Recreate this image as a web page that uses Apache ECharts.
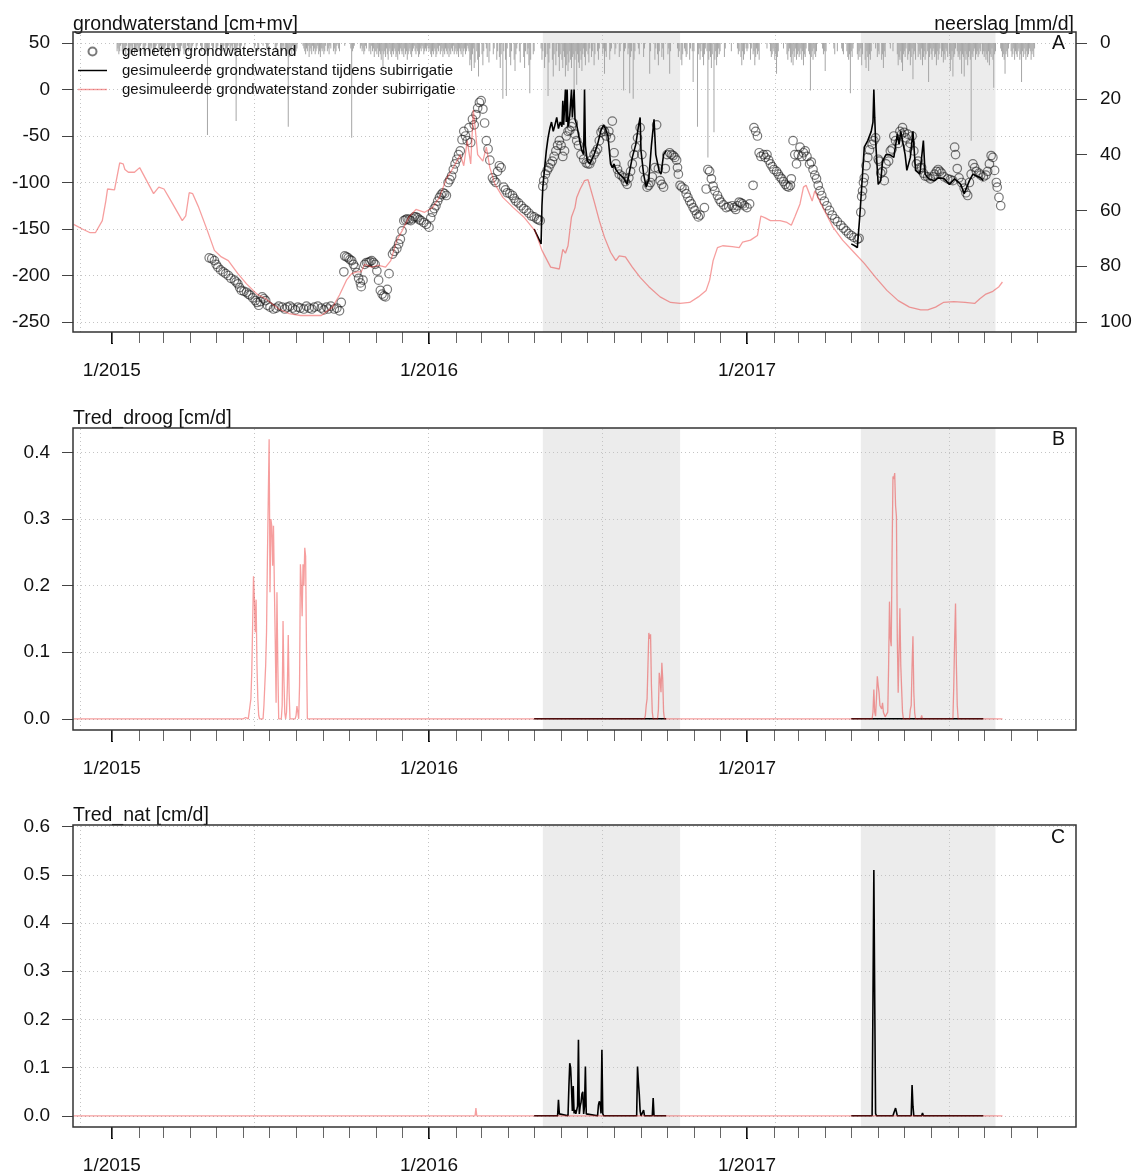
<!DOCTYPE html>
<html>
<head>
<meta charset="utf-8">
<script src="https://cdn.jsdelivr.net/npm/echarts@6/dist/echarts.min.js"></script>
<style>
  html, body { margin: 0; padding: 0; background: #ffffff; }
  #chart { width: 1137px; height: 1176px; }
</style>
</head>
<body>
<div id="chart"></div>
<script>
// ---------------------------------------------------------------------------
// Data: groundwater level, precipitation and transpiration reduction
// ---------------------------------------------------------------------------

// Daily precipitation [mm/d], one value per day starting on 1 January
const precip2015 = [
  0,0,0,0,0,0,3,2,4,3,1,0,3,4,2,3,5,1,0,2,3,4,1,3,2,0,4,3,2,1,3,        // jan
  2,3,1,0,0,2,4,3,1,0,0,3,2,4,1,2,0,3,4,2,1,0,0,2,3,1,4,2,              // feb
  3,2,4,1,0,3,5,2,1,0,2,3,4,2,0,0,1,3,2,4,3,1,0,2,4,3,2,0,1,3,2,        // mar
  0,2,3,1,0,0,0,2,1,0,0,0,1,3,2,0,0,2,4,3,33,4,2,0,0,1,3,2,0,0,         // apr
  2,3,1,0,0,2,4,3,2,1,0,3,2,4,1,0,2,3,1,2,0,3,4,28,3,1,0,2,3,1,0,       // may
  0,0,1,0,0,0,0,0,0,0,0,0,0,2,1,0,0,3,2,0,0,0,0,1,0,0,0,2,3,1,          // jun
  0,0,0,0,0,0,0,2,3,1,0,0,0,2,4,3,1,2,0,3,2,4,30,5,3,2,4,1,3,2,4,       // jul
  3,2,0,0,0,0,0,0,1,2,3,4,2,3,1,5,3,2,4,1,3,2,4,3,2,1,4,3,5,2,3,        // aug
  2,4,3,1,0,3,2,4,1,2,0,0,3,2,4,3,1,0,2,3,0,0,0,0,0,1,0,0,0,0,          // sep
  0,0,2,34,3,2,1,0,0,0,0,0,0,2,1,3,2,4,3,1,2,0,0,3,2,4,1,3,2,5,3,       // oct
  3,4,2,5,3,4,6,3,9,4,3,5,2,4,6,3,2,4,5,3,4,2,3,5,4,6,3,4,2,3,          // nov
  4,3,5,2,4,3,6,4,3,2,4,5,3,2,1,3,4,2,3,5,4,2,3,1,2,4,3,2,3,1,2         // dec
];
const precip2016 = [
  3,2,4,5,3,4,2,3,5,4,2,3,1,4,3,2,5,3,4,2,3,4,2,5,3,4,2,3,1,4,3,        // jan
  2,4,3,5,2,3,4,2,5,3,2,4,3,1,2,3,8,6,10,4,2,9,7,0,3,6,12,5,0,          // feb
  0,4,8,3,0,0,2,5,0,7,3,0,0,0,4,2,0,0,6,3,0,5,9,4,0,20,3,0,6,19,2,      // mar
  0,0,5,8,3,0,0,6,10,4,2,0,0,3,7,0,0,0,5,9,3,0,4,2,8,18,6,0,0,4,        // apr
  3,0,0,0,0,0,0,0,2,6,3,0,9,5,0,4,19,7,2,0,0,6,12,4,0,8,3,0,5,10,4,     // may
  0,6,9,3,5,12,8,4,10,7,3,6,9,5,4,18,6,3,15,4,7,9,3,6,10,4,2,5,8,3,     // jun
  0,4,7,2,0,5,3,0,8,4,0,0,3,6,2,0,0,0,4,2,11,3,5,0,0,0,6,3,2,0,0,       // jul
  0,4,2,0,0,0,5,3,0,0,0,17,3,2,0,0,4,2,18,5,3,0,20,6,3,0,0,0,2,4,0,     // aug
  0,0,0,5,2,0,0,0,0,0,11,3,0,0,0,0,6,2,0,4,8,3,0,0,5,2,6,0,0,0,         // sep
  0,4,2,11,3,0,0,0,0,0,0,0,2,5,3,0,6,8,4,0,2,3,5,4,0,0,6,2,0,3,14,      // oct
  3,0,0,0,30,4,2,6,3,0,5,8,4,2,0,3,41,6,3,5,9,4,0,32,6,3,8,5,2,4,       // nov
  3,0,0,0,0,5,2,0,0,0,0,0,0,3,0,0,0,0,0,0,2,4,3,0,5,8,3,6,4,0,2         // dec
];
const precip2017 = [
  3,2,0,0,6,2,0,4,3,8,5,2,4,3,6,0,0,0,0,0,0,0,0,2,0,0,0,3,5,4,2,        // jan
  3,6,4,11,5,3,0,0,0,0,0,2,0,0,0,4,6,3,2,5,7,4,8,3,5,2,6,4,             // feb
  3,5,4,2,6,3,8,4,5,2,0,0,3,4,17,5,3,6,2,4,5,3,0,0,0,0,0,0,2,4,3,       // mar
  10,3,0,0,0,0,0,0,0,0,2,4,0,0,3,0,0,0,0,2,3,4,0,0,0,3,5,6,4,18,        // apr
  3,5,2,0,0,0,0,4,6,3,5,2,8,4,0,0,6,9,3,5,10,4,6,3,0,0,0,0,2,0,5,       // may
  3,4,0,0,6,4,9,3,5,0,0,0,0,0,2,0,0,3,0,0,0,0,4,8,5,6,3,7,10,4,         // jun
  3,5,2,0,6,4,3,8,5,2,13,4,3,6,0,0,5,3,4,6,2,8,5,3,6,4,0,3,14,5,2,      // jul
  4,6,3,2,5,4,8,3,6,4,2,0,5,3,7,4,6,2,3,5,0,4,10,6,3,12,5,4,2,0,3,      // aug
  5,4,6,3,11,4,5,12,3,6,4,8,5,3,6,35,4,5,3,2,6,4,3,5,4,2,3,0,4,3,       // sep
  5,3,6,4,7,3,8,4,5,2,6,16,4,3,0,0,0,0,0,2,3,5,4,6,11,4,3,5,2,0,0,      // oct
  3,5,4,2,6,3,4,5,3,2,6,4,14,3,5,2,4,6,3,5,4,2,3,6,4,3,5,2,0,0          // nov
];

// Measured groundwater level [cm+mv]
const gwMeasured = [
  ['2015-04-23',-181],['2015-04-26',-182],['2015-04-29',-184],['2015-05-01',-188],['2015-05-03',-191],
  ['2015-05-06',-194],['2015-05-09',-196],['2015-05-12',-198],['2015-05-15',-200],['2015-05-18',-203],
  ['2015-05-22',-205],['2015-05-24',-207],['2015-05-26',-209],['2015-05-28',-213],['2015-05-30',-216],
  ['2015-06-02',-217],['2015-06-05',-218],['2015-06-07',-220],['2015-06-09',-221],['2015-06-12',-224],
  ['2015-06-15',-227],['2015-06-17',-229],['2015-06-19',-232],['2015-06-21',-228],['2015-06-23',-223],
  ['2015-06-25',-225],['2015-06-27',-227],['2015-06-29',-232],['2015-07-02',-234],['2015-07-06',-236],
  ['2015-07-09',-235],['2015-07-12',-233],['2015-07-16',-234],['2015-07-19',-236],['2015-07-22',-234],
  ['2015-07-25',-233],['2015-07-28',-235],['2015-07-31',-237],['2015-08-03',-234],['2015-08-06',-235],
  ['2015-08-10',-236],['2015-08-13',-233],['2015-08-16',-235],['2015-08-19',-236],['2015-08-22',-234],
  ['2015-08-26',-233],['2015-08-30',-235],['2015-09-02',-237],['2015-09-05',-234],['2015-09-07',-236],
  ['2015-09-10',-233],['2015-09-14',-236],['2015-09-17',-235],['2015-09-20',-238],['2015-09-22',-229],
  ['2015-09-25',-196],['2015-09-26',-179],['2015-09-28',-180],['2015-09-30',-181],['2015-10-02',-183],
  ['2015-10-04',-184],['2015-10-06',-188],['2015-10-08',-191],['2015-10-10',-197],['2015-10-12',-203],
  ['2015-10-14',-208],['2015-10-15',-212],['2015-10-17',-205],['2015-10-19',-188],['2015-10-21',-186],
  ['2015-10-23',-186],['2015-10-25',-185],['2015-10-27',-184],['2015-10-29',-186],['2015-10-31',-188],
  ['2015-11-02',-195],['2015-11-04',-205],['2015-11-06',-216],['2015-11-08',-220],['2015-11-10',-222],
  ['2015-11-12',-223],['2015-11-14',-215],['2015-11-16',-198],['2015-11-20',-177],['2015-11-22',-174],
  ['2015-11-25',-171],['2015-11-27',-166],['2015-11-29',-161],['2015-12-01',-152],['2015-12-03',-141],
  ['2015-12-05',-140],['2015-12-07',-139],['2015-12-09',-140],['2015-12-11',-141],['2015-12-13',-139],
  ['2015-12-15',-137],['2015-12-17',-137],['2015-12-19',-138],['2015-12-21',-140],['2015-12-23',-141],
  ['2015-12-26',-143],['2015-12-29',-145],['2016-01-01',-148],['2016-01-03',-138],['2016-01-05',-132],
  ['2016-01-07',-128],['2016-01-09',-125],['2016-01-11',-120],['2016-01-13',-116],['2016-01-15',-113],
  ['2016-01-17',-111],['2016-01-19',-112],['2016-01-21',-114],['2016-01-23',-100],['2016-01-25',-97],
  ['2016-01-27',-93],['2016-01-29',-86],['2016-01-31',-80],['2016-02-02',-75],['2016-02-04',-70],
  ['2016-02-06',-66],['2016-02-08',-54],['2016-02-10',-45],['2016-02-12',-50],['2016-02-14',-55],
  ['2016-02-16',-41],['2016-02-18',-57],['2016-02-20',-32],['2016-02-22',-38],['2016-02-24',-27],
  ['2016-02-26',-20],['2016-02-28',-14],['2016-03-01',-12],['2016-03-03',-21],['2016-03-05',-36],
  ['2016-03-07',-55],['2016-03-09',-64],['2016-03-11',-76],['2016-03-14',-95],['2016-03-16',-98],
  ['2016-03-18',-100],['2016-03-20',-88],['2016-03-22',-82],['2016-03-24',-84],['2016-03-27',-105],
  ['2016-03-29',-108],['2016-03-31',-111],['2016-04-03',-112],['2016-04-06',-114],['2016-04-08',-117],
  ['2016-04-10',-120],['2016-04-13',-122],['2016-04-16',-125],['2016-04-19',-128],['2016-04-22',-130],
  ['2016-04-25',-133],['2016-04-28',-136],['2016-05-01',-137],['2016-05-04',-139],['2016-05-06',-140],
  ['2016-05-08',-141],['2016-05-11',-104],['2016-05-12',-98],['2016-05-14',-91],['2016-05-16',-87],
  ['2016-05-18',-84],['2016-05-20',-80],['2016-05-22',-77],['2016-05-24',-72],['2016-05-26',-66],
  ['2016-05-28',-60],['2016-05-30',-55],['2016-06-01',-60],['2016-06-03',-72],['2016-06-05',-66],
  ['2016-06-07',-50],['2016-06-09',-45],['2016-06-11',-44],['2016-06-13',-40],['2016-06-15',-36],
  ['2016-06-17',-48],['2016-06-19',-55],['2016-06-21',-60],['2016-06-24',-70],['2016-06-27',-75],
  ['2016-06-30',-79],['2016-07-02',-80],['2016-07-04',-80],['2016-07-06',-76],['2016-07-09',-70],
  ['2016-07-11',-67],['2016-07-13',-64],['2016-07-15',-55],['2016-07-17',-46],['2016-07-19',-43],
  ['2016-07-21',-45],['2016-07-23',-50],['2016-07-26',-45],['2016-07-28',-52],['2016-07-30',-34],
  ['2016-08-01',-68],['2016-08-03',-80],['2016-08-05',-86],['2016-08-07',-91],['2016-08-10',-93],
  ['2016-08-12',-95],['2016-08-14',-99],['2016-08-16',-102],['2016-08-18',-95],['2016-08-20',-88],
  ['2016-08-22',-80],['2016-08-24',-70],['2016-08-26',-62],['2016-08-28',-52],['2016-08-31',-41],
  ['2016-09-02',-70],['2016-09-04',-86],['2016-09-06',-96],['2016-09-08',-105],['2016-09-10',-103],
  ['2016-09-12',-100],['2016-09-14',-94],['2016-09-17',-84],['2016-09-19',-38],['2016-09-21',-85],
  ['2016-09-23',-98],['2016-09-25',-102],['2016-09-27',-105],['2016-09-29',-85],['2016-10-01',-70],
  ['2016-10-04',-68],['2016-10-06',-70],['2016-10-08',-71],['2016-10-10',-73],['2016-10-12',-76],
  ['2016-10-13',-84],['2016-10-14',-91],['2016-10-16',-103],['2016-10-18',-105],['2016-10-21',-107],
  ['2016-10-23',-112],['2016-10-25',-116],['2016-10-27',-120],['2016-10-29',-123],['2016-10-31',-127],
  ['2016-11-02',-130],['2016-11-04',-134],['2016-11-06',-137],['2016-11-08',-135],['2016-11-13',-127],
  ['2016-11-15',-107],['2016-11-17',-86],['2016-11-19',-88],['2016-11-21',-96],['2016-11-23',-104],
  ['2016-11-25',-109],['2016-11-28',-114],['2016-11-30',-118],['2016-12-02',-121],['2016-12-05',-124],
  ['2016-12-08',-127],['2016-12-11',-126],['2016-12-15',-125],['2016-12-17',-127],['2016-12-19',-129],
  ['2016-12-21',-125],['2016-12-23',-121],['2016-12-25',-122],['2016-12-27',-123],['2016-12-29',-125],
  ['2017-01-01',-127],['2017-01-04',-123],['2017-01-08',-103],['2017-01-09',-41],['2017-01-11',-45],
  ['2017-01-13',-50],['2017-01-15',-68],['2017-01-17',-72],['2017-01-20',-70],['2017-01-22',-73],
  ['2017-01-24',-70],['2017-01-26',-76],['2017-01-28',-80],['2017-01-30',-83],['2017-02-01',-86],
  ['2017-02-04',-88],['2017-02-06',-91],['2017-02-08',-94],['2017-02-10',-96],['2017-02-12',-99],
  ['2017-02-14',-102],['2017-02-16',-104],['2017-02-18',-105],['2017-02-20',-103],['2017-02-21',-96],
  ['2017-02-23',-55],['2017-02-25',-70],['2017-02-27',-80],['2017-03-01',-70],['2017-03-03',-62],
  ['2017-03-05',-72],['2017-03-07',-68],['2017-03-09',-66],['2017-03-11',-72],['2017-03-14',-80],
  ['2017-03-16',-78],['2017-03-18',-86],['2017-03-20',-92],['2017-03-22',-96],['2017-03-24',-103],
  ['2017-03-26',-109],['2017-03-28',-114],['2017-03-31',-120],['2017-04-03',-125],['2017-04-06',-130],
  ['2017-04-09',-135],['2017-04-12',-139],['2017-04-15',-142],['2017-04-19',-146],['2017-04-22',-149],
  ['2017-04-25',-152],['2017-04-28',-155],['2017-05-01',-157],['2017-05-04',-159],['2017-05-08',-161],
  ['2017-05-10',-160],['2017-05-12',-132],['2017-05-13',-115],['2017-05-14',-109],['2017-05-15',-100],
  ['2017-05-16',-95],['2017-05-18',-82],['2017-05-20',-73],['2017-05-22',-65],['2017-05-25',-59],
  ['2017-05-27',-55],['2017-05-29',-52],['2017-06-01',-75],['2017-06-02',-77],['2017-06-04',-90],
  ['2017-06-06',-88],['2017-06-08',-98],['2017-06-10',-80],['2017-06-13',-77],['2017-06-15',-66],
  ['2017-06-17',-64],['2017-06-19',-50],['2017-06-21',-55],['2017-06-24',-58],['2017-06-26',-45],
  ['2017-06-28',-48],['2017-06-29',-41],['2017-07-01',-46],['2017-07-03',-52],['2017-07-05',-48],
  ['2017-07-06',-62],['2017-07-08',-58],['2017-07-10',-50],['2017-07-12',-66],['2017-07-15',-80],
  ['2017-07-17',-77],['2017-07-19',-84],['2017-07-21',-84],['2017-07-23',-90],['2017-07-25',-93],
  ['2017-07-28',-94],['2017-07-31',-96],['2017-08-03',-94],['2017-08-05',-91],['2017-08-07',-88],
  ['2017-08-09',-86],['2017-08-11',-88],['2017-08-13',-90],['2017-08-16',-94],['2017-08-20',-96],
  ['2017-08-23',-97],['2017-08-26',-98],['2017-08-28',-62],['2017-08-29',-70],['2017-08-31',-85],
  ['2017-09-02',-95],['2017-09-05',-100],['2017-09-08',-106],['2017-09-10',-111],['2017-09-12',-114],
  ['2017-09-14',-100],['2017-09-16',-91],['2017-09-18',-80],['2017-09-20',-84],['2017-09-22',-88],
  ['2017-09-25',-90],['2017-09-27',-92],['2017-09-30',-94],['2017-10-03',-92],['2017-10-05',-88],
  ['2017-10-07',-80],['2017-10-09',-71],['2017-10-11',-73],['2017-10-13',-87],['2017-10-15',-100],
  ['2017-10-16',-105],['2017-10-18',-116],['2017-10-20',-125]
];

// Simulated groundwater level during subirrigation [cm+mv] (null = no simulation)
const gwSimSub = [
  ['2016-05-01',-150],['2016-05-03',-154],['2016-05-05',-158],['2016-05-07',-162],['2016-05-09',-166],
  ['2016-05-10',-125],['2016-05-11',-105],['2016-05-13',-85],['2016-05-15',-66],['2016-05-17',-52],
  ['2016-05-19',-42],['2016-05-21',-35],['2016-05-23',-45],['2016-05-25',-38],['2016-05-27',-30],
  ['2016-05-29',-42],['2016-05-31',-35],['2016-06-02',-40],['2016-06-03',-12],['2016-06-04',-38],
  ['2016-06-06',0],['2016-06-07',-35],['2016-06-08',0],['2016-06-09',-40],['2016-06-11',-28],
  ['2016-06-13',0],['2016-06-14',-30],['2016-06-16',0],['2016-06-17',-32],['2016-06-19',-38],
  ['2016-06-21',-48],['2016-06-23',-58],['2016-06-25',-66],['2016-06-27',-70],['2016-06-28',0],
  ['2016-06-29',-60],['2016-07-01',-76],['2016-07-04',-80],['2016-07-07',-74],['2016-07-09',-70],
  ['2016-07-13',-59],['2016-07-17',-44],['2016-07-20',-38],['2016-07-22',-42],['2016-07-25',-50],
  ['2016-07-28',-80],['2016-07-30',-84],['2016-08-01',-80],['2016-08-03',-86],['2016-08-07',-91],
  ['2016-08-12',-95],['2016-08-16',-102],['2016-08-18',-92],['2016-08-22',-73],['2016-08-26',-59],
  ['2016-08-29',-40],['2016-08-31',-30],['2016-09-01',-66],['2016-09-04',-91],['2016-09-07',-105],
  ['2016-09-10',-96],['2016-09-13',-60],['2016-09-16',-32],['2016-09-18',-70],['2016-09-22',-88],
  ['2016-09-24',-91],['2016-09-27',-70],['2016-09-30',-66],
  ['2016-12-01',null],
  ['2017-05-01',-166],['2017-05-03',-167],['2017-05-05',-168],['2017-05-08',-170],['2017-05-10',-171],
  ['2017-05-11',-134],['2017-05-13',-105],['2017-05-16',-62],['2017-05-20',-55],['2017-05-24',-45],
  ['2017-05-26',-35],['2017-05-27',0],['2017-05-28',-30],['2017-05-29',-55],['2017-06-01',-102],
  ['2017-06-04',-98],['2017-06-06',-77],['2017-06-10',-70],['2017-06-14',-70],['2017-06-19',-73],
  ['2017-06-23',-48],['2017-06-25',-59],['2017-06-27',-45],['2017-07-02',-70],['2017-07-04',-87],
  ['2017-07-08',-73],['2017-07-11',-45],['2017-07-14',-87],['2017-07-19',-91],['2017-07-23',-55],
  ['2017-07-25',-91],['2017-07-29',-96],['2017-08-05',-98],['2017-08-09',-95],['2017-08-16',-96],
  ['2017-08-22',-102],['2017-08-28',-96],['2017-09-04',-102],['2017-09-08',-112],['2017-09-10',-114],
  ['2017-09-14',-98],['2017-09-18',-91],['2017-09-22',-93],['2017-09-27',-95],['2017-09-30',-98]
];

// Simulated groundwater level without subirrigation [cm+mv]
const gwSimNoSub = [
  ['2014-11-18',-145],['2014-11-28',-150],['2014-12-07',-154],['2014-12-13',-154],['2014-12-21',-141],
  ['2014-12-25',-120],['2014-12-27',-107],['2015-01-04',-108],['2015-01-10',-79],['2015-01-14',-80],
  ['2015-01-16',-86],['2015-01-20',-89],['2015-01-27',-89],['2015-02-02',-84],['2015-02-06',-91],
  ['2015-02-18',-112],['2015-02-24',-105],['2015-03-02',-107],['2015-03-12',-123],['2015-03-23',-141],
  ['2015-03-27',-136],['2015-03-31',-111],['2015-04-04',-112],['2015-04-11',-127],['2015-04-21',-152],
  ['2015-04-29',-173],['2015-05-07',-180],['2015-05-15',-184],['2015-05-26',-198],['2015-06-05',-209],
  ['2015-06-17',-220],['2015-06-27',-225],['2015-07-12',-236],['2015-07-24',-241],['2015-08-06',-243],
  ['2015-08-18',-243],['2015-08-30',-243],['2015-09-12',-234],['2015-09-20',-221],['2015-09-28',-205],
  ['2015-10-04',-198],['2015-10-10',-196],['2015-10-15',-196],['2015-10-19',-188],['2015-10-27',-191],
  ['2015-11-04',-189],['2015-11-12',-191],['2015-11-18',-184],['2015-11-25',-162],['2015-12-01',-152],
  ['2015-12-09',-137],['2015-12-17',-129],['2015-12-27',-132],['2016-01-05',-127],['2016-01-13',-116],
  ['2016-01-21',-96],['2016-01-29',-84],['2016-02-06',-70],['2016-02-10',-82],['2016-02-14',-55],
  ['2016-02-18',-80],['2016-02-21',-22],['2016-02-23',-40],['2016-02-26',-70],['2016-03-03',-77],
  ['2016-03-07',-62],['2016-03-11',-84],['2016-03-17',-102],['2016-03-26',-116],['2016-04-07',-127],
  ['2016-04-19',-137],['2016-05-02',-152],['2016-05-10',-173],['2016-05-20',-191],['2016-05-30',-193],
  ['2016-06-03',-172],['2016-06-06',-176],['2016-06-09',-168],['2016-06-13',-137],['2016-06-17',-127],
  ['2016-06-19',-116],['2016-06-23',-107],['2016-06-28',-98],['2016-07-02',-97],['2016-07-09',-120],
  ['2016-07-15',-141],['2016-07-21',-159],['2016-07-28',-175],['2016-08-03',-184],['2016-08-07',-179],
  ['2016-08-14',-180],['2016-08-22',-191],['2016-08-31',-202],['2016-09-10',-212],['2016-09-23',-223],
  ['2016-10-05',-229],['2016-10-16',-230],['2016-10-27',-229],['2016-11-06',-223],['2016-11-15',-216],
  ['2016-11-19',-205],['2016-11-23',-184],['2016-11-28',-170],['2016-12-04',-168],['2016-12-15',-169],
  ['2016-12-23',-170],['2016-12-27',-164],['2017-01-05',-162],['2017-01-13',-157],['2017-01-17',-136],
  ['2017-01-22',-138],['2017-01-28',-141],['2017-02-08',-141],['2017-02-16',-143],['2017-02-21',-146],
  ['2017-02-25',-137],['2017-03-03',-123],['2017-03-07',-105],['2017-03-10',-103],['2017-03-17',-120],
  ['2017-03-20',-109],['2017-03-31',-130],['2017-04-10',-148],['2017-04-21',-162],['2017-05-04',-175],
  ['2017-05-16',-187],['2017-05-29',-202],['2017-06-11',-216],['2017-06-24',-227],['2017-07-07',-234],
  ['2017-07-20',-237],['2017-07-28',-237],['2017-08-06',-234],['2017-08-15',-229],['2017-08-27',-228],
  ['2017-09-09',-229],['2017-09-20',-230],['2017-09-26',-225],['2017-10-03',-220],['2017-10-11',-217],
  ['2017-10-18',-212],['2017-10-22',-207]
];

// Transpiration reduction due to drought [cm/d]
const tredDroogSub = [
  ['2016-05-01',0],['2016-09-30',0],['2016-12-01',null],['2017-05-01',0],['2017-09-30',0]
];
const tredDroogNoSub = [
  ['2014-11-18',0],['2015-06-01',0],['2015-06-02',0.002],['2015-06-03',0.003],['2015-06-04',0.002],
  ['2015-06-05',0],['2015-06-07',0],['2015-06-08',0.01],['2015-06-09',0.02],['2015-06-10',0.03],
  ['2015-06-11',0.07],['2015-06-12',0.14],['2015-06-13',0.214],['2015-06-14',0.18],['2015-06-15',0.13],
  ['2015-06-16',0.179],['2015-06-17',0.08],['2015-06-18',0.029],['2015-06-19',0.005],['2015-06-20',0],
  ['2015-06-24',0],['2015-06-25',0.02],['2015-06-26',0.02],['2015-06-27',0.08],['2015-06-28',0.13],
  ['2015-06-29',0.24],['2015-06-30',0.33],['2015-07-01',0.42],['2015-07-02',0.19],['2015-07-03',0.3],
  ['2015-07-04',0.29],['2015-07-05',0.23],['2015-07-06',0.29],['2015-07-07',0.2],['2015-07-08',0.12],
  ['2015-07-09',0.024],['2015-07-10',0.19],['2015-07-11',0.08],['2015-07-12',0],['2015-07-15',0],
  ['2015-07-16',0.02],['2015-07-17',0.147],['2015-07-18',0.06],['2015-07-19',0.009],['2015-07-20',0],
  ['2015-07-21',0.01],['2015-07-22',0.05],['2015-07-23',0.126],['2015-07-24',0.04],['2015-07-25',0],
  ['2015-07-31',0],['2015-08-01',0.005],['2015-08-02',0.019],['2015-08-03',0.01],['2015-08-04',0],
  ['2015-08-05',0.05],['2015-08-06',0.232],['2015-08-07',0.2],['2015-08-08',0.154],['2015-08-09',0.232],
  ['2015-08-10',0.2],['2015-08-11',0.257],['2015-08-12',0.244],['2015-08-13',0.1],['2015-08-14',0],
  ['2016-09-05',0],['2016-09-06',0.005],['2016-09-07',0.02],['2016-09-08',0.03],['2016-09-09',0.08],
  ['2016-09-10',0.129],['2016-09-11',0.12],['2016-09-12',0.127],['2016-09-13',0.05],['2016-09-14',0.01],
  ['2016-09-15',0],['2016-09-20',0],['2016-09-21',0.013],['2016-09-22',0.069],['2016-09-23',0.059],
  ['2016-09-24',0.04],['2016-09-25',0.084],['2016-09-26',0.06],['2016-09-27',0.01],['2016-09-28',0],
  ['2017-05-25',0],['2017-05-26',0.01],['2017-05-27',0.044],['2017-05-28',0.01],['2017-05-29',0.004],
  ['2017-05-30',0.03],['2017-05-31',0.064],['2017-06-01',0.05],['2017-06-02',0.039],['2017-06-03',0.02],
  ['2017-06-04',0.021],['2017-06-05',0.015],['2017-06-06',0.024],['2017-06-07',0.01],['2017-06-08',0.009],
  ['2017-06-09',0.003],['2017-06-10',0],['2017-06-11',0],['2017-06-12',0.01],['2017-06-13',0.08],
  ['2017-06-14',0.176],['2017-06-15',0.12],['2017-06-16',0.109],['2017-06-17',0.25],['2017-06-18',0.364],
  ['2017-06-19',0.36],['2017-06-20',0.369],['2017-06-21',0.32],['2017-06-22',0.304],['2017-06-23',0.12],
  ['2017-06-24',0.039],['2017-06-25',0.1],['2017-06-26',0.166],['2017-06-27',0.08],['2017-06-28',0.044],
  ['2017-06-29',0.01],['2017-06-30',0],['2017-07-07',0],['2017-07-08',0.014],['2017-07-09',0.02],
  ['2017-07-10',0.08],['2017-07-11',0.124],['2017-07-12',0.04],['2017-07-13',0.009],['2017-07-14',0],
  ['2017-07-20',0],['2017-07-21',0.005],['2017-07-22',0],['2017-08-26',0],['2017-08-27',0.05],
  ['2017-08-28',0.12],['2017-08-29',0.173],['2017-08-30',0.08],['2017-08-31',0.02],['2017-09-01',0],
  ['2017-10-22',0]
];

// Transpiration reduction due to wetness [cm/d]
const tredNatSub = [
  ['2016-05-01',0],['2016-05-28',0],['2016-05-29',0.033],['2016-05-30',0.004],['2016-05-31',0],
  ['2016-06-09',0],['2016-06-10',0.06],['2016-06-11',0.109],['2016-06-12',0.1],['2016-06-13',0.058],
  ['2016-06-14',0.01],['2016-06-15',0.062],['2016-06-16',0.005],['2016-06-17',0.012],['2016-06-18',0.004],
  ['2016-06-20',0.02],['2016-06-21',0.158],['2016-06-22',0.004],['2016-06-23',0.02],['2016-06-24',0.028],
  ['2016-06-25',0.045],['2016-06-26',0.05],['2016-06-27',0.004],['2016-06-28',0.02],['2016-06-29',0.102],
  ['2016-06-30',0.004],['2016-07-01',0],['2016-07-13',0],['2016-07-14',0.022],['2016-07-15',0.03],
  ['2016-07-16',0.025],['2016-07-17',0.005],['2016-07-18',0.137],['2016-07-19',0.005],['2016-07-20',0],
  ['2016-08-27',0],['2016-08-28',0.102],['2016-08-29',0.07],['2016-08-30',0.045],['2016-08-31',0.01],
  ['2016-09-01',0],['2016-09-03',0],['2016-09-04',0.012],['2016-09-05',0],['2016-09-14',0],
  ['2016-09-15',0.037],['2016-09-16',0],['2016-09-30',0],
  ['2016-12-01',null],
  ['2017-05-01',0],['2017-05-25',0],['2017-05-26',0.24],['2017-05-27',0.51],['2017-05-28',0.24],
  ['2017-05-29',0.005],['2017-05-30',0],['2017-06-06',0],['2017-06-07',0.004],['2017-06-08',0],
  ['2017-06-18',0],['2017-06-19',0.006],['2017-06-20',0.004],['2017-06-21',0.016],['2017-06-22',0.012],
  ['2017-06-23',0],['2017-07-09',0],['2017-07-10',0.064],['2017-07-11',0.02],['2017-07-12',0],
  ['2017-07-21',0],['2017-07-22',0.006],['2017-07-23',0],['2017-09-30',0]
];
const tredNatNoSub = [
  ['2014-11-18',0],['2016-02-23',0],['2016-02-24',0.016],['2016-02-25',0],['2017-10-22',0]
];

// Subirrigation seasons (shaded)
const irrigationPeriods = [['2016-05-11','2016-10-16'], ['2017-05-12','2017-10-14']];

// Tick values and labels
const tickYears = [2015, 2016, 2017];
const yearTickLabels = ['1/2015', '1/2016', '1/2017'];
const gwTicks = [-250, -200, -150, -100, -50, 0, 50];
const precipTicks = [0, 20, 40, 60, 80, 100];
const droogTicks = [0, 0.1, 0.2, 0.3, 0.4];
const natTicks = [0, 0.1, 0.2, 0.3, 0.4, 0.5, 0.6];
const gridDayNumbers = [16400, 16600, 16800, 17000, 17200, 17400]; // days since 1970-01-01

const legendNames = [
  'gemeten grondwaterstand',
  'gesimuleerde grondwaterstand tijdens subirrigatie',
  'gesimuleerde grondwaterstand zonder subirrigatie'
];

// ---------------------------------------------------------------------------
// Chart construction (x axes are numeric timestamps in ms, UTC)
// ---------------------------------------------------------------------------
const FONT = '"Liberation Sans", Arial, Helvetica, sans-serif';
const DAY_MS = 86400000;
const X_MIN = Date.UTC(2014, 10, 17, 6);
const X_MAX = Date.UTC(2018, 0, 14, 16);
const RED = 'rgba(235,40,40,0.45)';
const BLACK = '#000000';
const TXT = '#111111';
const LINE_ICON = 'path://M0,0 L40,0 L40,2 L0,2 Z';

const day = s => { const p = s.split('-'); return Date.UTC(+p[0], +p[1] - 1, +p[2]); };
const pairs = rows => rows.map(r => [day(r[0]), r[1]]);
const daily = (year, values) => values.map((v, i) => [Date.UTC(year, 0, 1 + i), v]);

const precipData = [].concat(daily(2015, precip2015), daily(2016, precip2016), daily(2017, precip2017));
const yearTicks = tickYears.map(y => Date.UTC(y, 0, 1));
const monthTicks = [];
tickYears.forEach(y => { for (let m = 0; m < 12; m++) monthTicks.push(Date.UTC(y, m, 1)); });

function yearLabel(v) {
  let best = 0;
  yearTicks.forEach((t, i) => { if (Math.abs(t - v) < Math.abs(yearTicks[best] - v)) best = i; });
  return yearTickLabels[best];
}

const GRIDS = [
  { top: 32, height: 300 },
  { top: 428, height: 302 },
  { top: 825, height: 302 }
];

function xAxesFor(g) {
  return [
    {
      gridIndex: g, type: 'value', min: X_MIN, max: X_MAX, position: 'bottom',
      axisLine: { show: false, onZero: false }, splitLine: { show: false },
      axisTick: { show: true, inside: false, customValues: yearTicks, length: 12, lineStyle: { color: '#111', width: 2 } },
      axisLabel: { show: true, customValues: yearTicks, formatter: yearLabel, fontSize: 19, color: TXT, fontFamily: FONT, margin: 29 }
    },
    {
      gridIndex: g, type: 'value', min: X_MIN, max: X_MAX, position: 'bottom',
      axisLine: { show: false, onZero: false }, splitLine: { show: false },
      axisTick: { show: true, inside: false, customValues: monthTicks, length: 11, lineStyle: { color: '#666', width: 1 } },
      axisLabel: { show: false }
    }
  ];
}

function yAxis(g, min, max, ticks, opts) {
  return Object.assign({
    gridIndex: g, type: 'value', min: min, max: max, position: 'left',
    axisLine: { show: false, onZero: false }, splitLine: { show: false },
    axisTick: { show: true, customValues: ticks, length: 11, lineStyle: { color: '#444', width: 1 } },
    axisLabel: { customValues: ticks, fontSize: 19, color: TXT, fontFamily: FONT, margin: 23 }
  }, opts || {});
}

// shaded seasons and dotted reference grid of one panel
function backdrop(g, xIdx, yIdx, hValues) {
  return [
    {
      type: 'line', name: 'seizoen' + g, xAxisIndex: xIdx, yAxisIndex: yIdx, data: [], silent: true, z: 0,
      markArea: {
        silent: true, z: 0, itemStyle: { color: '#ececec' },
        data: irrigationPeriods.map(p => [{ xAxis: day(p[0]) }, { xAxis: day(p[1]) }])
      }
    },
    {
      type: 'line', name: 'raster' + g, xAxisIndex: xIdx, yAxisIndex: yIdx, data: [], silent: true, z: 1,
      markLine: {
        silent: true, z: 1, symbol: ['none', 'none'], label: { show: false },
        lineStyle: { color: '#c4c4c4', type: [1, 3], width: 1 },
        emphasis: { disabled: true },
        data: gridDayNumbers.map(d => ({ xAxis: d * DAY_MS })).concat(hValues.map(v => ({ yAxis: v })))
      }
    }
  ];
}

function simLine(name, xIdx, yIdx, rows, color, width, z) {
  return {
    type: 'line', name: name, xAxisIndex: xIdx, yAxisIndex: yIdx, data: pairs(rows),
    symbol: 'none', showSymbol: false, connectNulls: false, silent: true, z: z,
    lineStyle: { color: color, width: width }, itemStyle: { color: color }
  };
}

const titleStyle = { fontSize: 19.5, fontWeight: 'normal', color: TXT, fontFamily: FONT };
const mkTitle = (text, pos) => Object.assign({ text: text, padding: 0, textStyle: titleStyle }, pos);

const option = {
  animation: false,
  backgroundColor: '#ffffff',
  title: [
    mkTitle('grondwaterstand [cm+mv]', { left: 73, top: 15 }),
    mkTitle('neerslag [mm/d]', { right: 63, top: 15 }),
    mkTitle('A', { left: 1052, top: 34 }),
    mkTitle('Tred_droog [cm/d]', { left: 73, top: 409 }),
    mkTitle('B', { left: 1052, top: 430 }),
    mkTitle('Tred_nat [cm/d]', { left: 73, top: 806 }),
    mkTitle('C', { left: 1051, top: 828 })
  ],
  legend: {
    left: 78, top: 44, orient: 'vertical', padding: 0,
    itemWidth: 29, itemHeight: 8, itemGap: 4, selectedMode: false,
    data: [
      { name: legendNames[0] },
      { name: legendNames[1], icon: LINE_ICON, itemStyle: { color: BLACK } },
      { name: legendNames[2], icon: LINE_ICON, itemStyle: { color: RED } }
    ],
    textStyle: { fontSize: 15, lineHeight: 15, color: TXT, fontFamily: FONT, padding: [0, 0, 0, 10] }
  },
  grid: GRIDS.map(g => ({
    left: 73, width: 1003, top: g.top, height: g.height,
    show: true, borderColor: '#333', borderWidth: 1.5, backgroundColor: 'transparent', z: 10
  })),
  xAxis: [].concat(xAxesFor(0), xAxesFor(1), xAxesFor(2)),
  yAxis: [
    yAxis(0, -260.75, 61.83, gwTicks),
    yAxis(0, -3.94, 103.58, precipTicks, { position: 'right', inverse: true,
      axisLabel: { customValues: precipTicks, fontSize: 19, color: TXT, fontFamily: FONT, margin: 24 } }),
    yAxis(1, -0.0168, 0.4368, droogTicks, {
      axisLabel: { customValues: droogTicks, fontSize: 19, color: TXT, fontFamily: FONT, margin: 23, formatter: v => v.toFixed(1) } }),
    yAxis(2, -0.0232, 0.6032, natTicks, {
      axisLabel: { customValues: natTicks, fontSize: 19, color: TXT, fontFamily: FONT, margin: 23, formatter: v => v.toFixed(1) } })
  ],
  series: [].concat(
    // panel A: groundwater level and precipitation
    backdrop(0, 0, 0, gwTicks),
    [{
      type: 'bar', name: 'neerslag', xAxisIndex: 0, yAxisIndex: 1, data: precipData,
      barWidth: 1, silent: true, z: 2, itemStyle: { color: '#a6a6a6' }
    },
    {
      type: 'scatter', name: legendNames[0], xAxisIndex: 0, yAxisIndex: 0, data: pairs(gwMeasured),
      symbol: 'circle', symbolSize: 8.5, silent: true, z: 3,
      itemStyle: { color: 'rgba(0,0,0,0)', borderColor: 'rgba(25,25,25,0.72)', borderWidth: 1.2 }
    },
    simLine(legendNames[1], 0, 0, gwSimSub, BLACK, 1.6, 4),
    simLine(legendNames[2], 0, 0, gwSimNoSub, RED, 1.3, 5)],
    // panel B: drought reduction
    backdrop(1, 2, 2, droogTicks),
    [simLine(legendNames[1], 2, 2, tredDroogSub, BLACK, 1.6, 4),
     simLine(legendNames[2], 2, 2, tredDroogNoSub, RED, 1.3, 5)],
    // panel C: wetness reduction
    backdrop(2, 4, 3, natTicks),
    [simLine(legendNames[1], 4, 3, tredNatSub, BLACK, 1.6, 4),
     simLine(legendNames[2], 4, 3, tredNatNoSub, RED, 1.3, 5)]
  )
};

const chart = echarts.init(document.getElementById('chart'), null, { renderer: 'canvas' });
chart.setOption(option);
</script>
</body>
</html>
